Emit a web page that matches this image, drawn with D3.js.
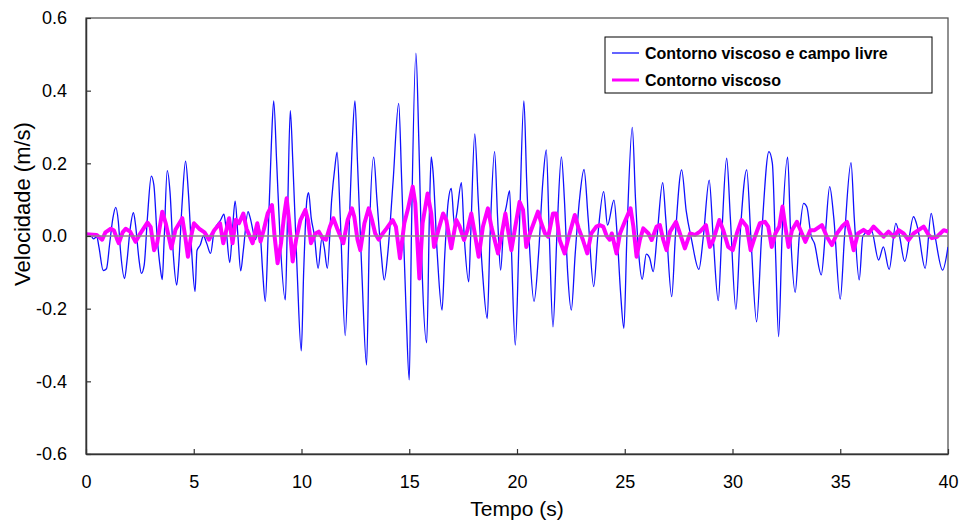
<!DOCTYPE html>
<html>
<head>
<meta charset="utf-8">
<script src="https://cdn.jsdelivr.net/npm/d3@7"></script>
<style>
  body { margin: 0; background: #fff; }
  svg { display: block; }
  text { font-family: Arial, "Liberation Sans", sans-serif; fill: #000; }
</style>
</head>
<body>
<svg id="chart" width="961" height="523"></svg>
<script>
// Series names shown in the legend
const seriesNames = ["Contorno viscoso e campo livre", "Contorno viscoso"];

// Velocity (m/s) vs time (s) — viscous boundary + free field
const timeFree = [0,0.2,0.35,0.5,0.6,0.8,0.95,1.1,1.25,1.38,1.5,1.6,1.79,1.9,2.05,2.2,2.3,2.45,2.57,2.7,2.85,3.03,3.15,3.3,3.45,3.54,3.62,3.77,3.9,4.05,4.21,4.3,4.45,4.62,4.75,4.9,5.06,5.15,5.3,5.45,5.6,5.78,5.95,6.25,6.4,6.5,6.67,6.8,6.92,7.05,7.18,7.3,7.52,7.62,7.87,8.0,8.1,8.2,8.32,8.45,8.6,8.71,8.85,9.0,9.25,9.35,9.48,9.6,9.8,9.99,10.1,10.25,10.33,10.45,10.6,10.77,10.95,11.05,11.2,11.4,11.55,11.65,11.8,12.03,12.2,12.35,12.48,12.6,12.8,13.02,13.15,13.35,13.5,13.7,13.84,14.0,14.25,14.51,14.65,14.85,15.0,15.1,15.31,15.45,15.6,15.81,15.95,16.02,16.1,16.3,16.52,16.65,16.8,16.95,17.1,17.2,17.42,17.55,17.76,17.85,18.04,18.2,18.4,18.62,18.75,18.96,19.1,19.24,19.4,19.5,19.66,19.75,19.92,20.1,20.32,20.45,20.6,20.79,21.0,21.2,21.36,21.5,21.67,21.85,22.06,22.2,22.35,22.52,22.7,22.9,23.11,23.3,23.56,23.75,24.02,24.2,24.5,24.65,24.8,24.96,25.1,25.35,25.5,25.65,25.81,26.0,26.15,26.32,26.5,26.76,26.9,27.18,27.35,27.64,27.85,28.1,28.44,28.65,28.92,29.1,29.34,29.5,29.73,29.9,30.16,30.35,30.66,30.85,31.12,31.35,31.69,31.85,32.0,32.14,32.3,32.56,32.7,32.91,33.1,33.3,33.45,33.65,33.8,34.12,34.3,34.51,34.7,35.0,35.2,35.5,35.65,35.88,36.05,36.44,36.78,37.0,37.27,37.58,37.75,37.99,38.4,38.6,38.94,39.22,39.4,39.75,40.0];
const velFree = [0,0.003,-0.008,-0.002,-0.03,-0.095,-0.09,-0.02,0.05,0.079,0.04,-0.04,-0.117,-0.07,0.02,0.064,0.03,-0.06,-0.103,-0.08,0.05,0.165,0.14,0.0,-0.09,-0.12,-0.02,0.18,0.12,-0.05,-0.135,-0.08,0.08,0.206,0.12,-0.04,-0.153,-0.04,-0.025,0.0,-0.02,-0.048,0.015,0.044,0.06,0.02,-0.073,0.02,0.096,0.0,-0.096,-0.04,0.067,0.05,-0.01,0.03,-0.005,-0.1,-0.18,0.0,0.25,0.372,0.2,0.0,-0.176,0.05,0.345,0.2,-0.1,-0.316,-0.1,0.1,0.119,0.05,0.0,-0.089,-0.005,-0.03,-0.089,0.1,0.19,0.231,0.05,-0.274,0.0,0.25,0.372,0.2,-0.1,-0.355,0.0,0.217,0.1,-0.05,-0.121,-0.05,0.15,0.365,0.15,-0.2,-0.396,0.0,0.503,0.25,-0.1,-0.294,0.1,0.218,0.18,-0.05,-0.204,-0.05,0.09,0.131,0.03,0.06,0.147,0.0,-0.126,0.0,0.281,0.1,-0.1,-0.227,0.0,0.232,0.05,-0.094,0.05,0.08,0.125,-0.05,-0.3,0.0,0.372,0.15,-0.05,-0.18,-0.05,0.15,0.237,0.0,-0.25,0.0,0.218,0.1,-0.1,-0.204,-0.05,0.1,0.183,0.05,-0.139,0.0,0.122,0.03,0.099,0.0,-0.15,-0.254,0.0,0.299,0.1,-0.05,-0.119,-0.05,-0.06,-0.098,0.0,0.147,0.05,-0.167,0.0,0.182,0.07,-0.01,-0.092,0.0,0.154,0.0,-0.178,0.0,0.214,0.05,-0.202,0.0,0.182,0.0,-0.236,0.0,0.232,0.2,-0.05,-0.277,0.0,0.217,0.0,-0.155,0.0,0.09,0.08,0.0,-0.02,-0.107,0.0,0.136,0.05,-0.174,0.0,0.202,0.05,-0.121,0.0,0.017,-0.066,-0.03,-0.092,0.035,0.0,-0.07,0.053,0.02,-0.089,0.062,0.0,-0.094,-0.03];

// Velocity (m/s) vs time (s) — viscous boundary only
const timeVisc = [0,0.5,0.75,0.9,1.15,1.3,1.45,1.52,1.7,1.84,2.05,2.3,2.5,2.85,3.0,3.16,3.3,3.54,3.7,3.96,4.15,4.47,4.6,4.73,4.88,5.01,5.25,5.5,5.71,5.95,6.22,6.37,6.64,6.8,6.95,7.1,7.3,7.45,7.73,7.95,8.1,8.25,8.43,8.63,8.75,8.89,9.05,9.2,9.31,9.42,9.59,9.75,9.95,10.18,10.3,10.44,10.65,10.8,10.98,11.14,11.32,11.48,11.68,11.94,12.14,12.34,12.45,12.6,12.73,12.92,13.12,13.27,13.42,13.58,13.77,13.95,14.23,14.38,14.57,14.77,14.93,15.16,15.28,15.47,15.62,15.85,16.02,16.15,16.35,16.57,16.72,16.95,17.18,17.34,17.54,17.7,17.88,18.04,18.22,18.42,18.65,18.81,19.12,19.3,19.46,19.61,19.74,19.92,20.12,20.28,20.43,20.6,20.97,21.13,21.3,21.45,21.67,21.82,21.98,22.21,22.44,22.68,22.86,23.06,23.26,23.45,23.68,23.84,24.0,24.16,24.3,24.4,24.62,24.78,25.0,25.27,25.4,25.55,25.7,25.86,26.1,26.25,26.48,26.63,26.79,26.94,27.1,27.38,27.56,27.79,28.03,28.26,28.49,28.77,28.95,29.11,29.39,29.57,29.8,30.01,30.2,30.42,30.66,30.84,31.04,31.27,31.51,31.66,31.82,31.99,32.17,32.32,32.45,32.6,32.76,32.99,33.22,33.38,33.61,33.81,34.15,34.38,34.61,34.85,35.08,35.31,35.46,35.62,35.82,36.08,36.31,36.55,36.78,37.01,37.24,37.48,37.71,37.94,38.17,38.4,38.63,38.87,39.1,39.25,39.49,39.8,40.0];
const velVisc = [0.005,0.003,-0.01,0.01,0.02,0.015,-0.01,-0.02,0.01,0.02,0.012,-0.016,0.005,0.037,0.025,-0.039,-0.02,0.067,0.035,-0.034,0.017,0.049,0.0,-0.057,0.0,0.035,0.02,0.01,-0.01,0.016,0.035,-0.02,0.049,-0.02,0.045,0.035,0.062,0.02,-0.02,0.035,-0.015,0.017,0.062,0.085,0.0,-0.075,-0.02,0.06,0.104,0.044,-0.07,-0.01,0.044,0.072,0.044,-0.02,0.007,0.012,-0.006,-0.01,0.026,0.049,0.017,-0.02,0.044,0.076,0.053,-0.01,-0.039,0.035,0.076,0.044,0.007,-0.01,0.007,0.021,0.044,0.026,-0.061,0.035,0.072,0.136,0.09,-0.117,0.035,0.117,0.062,-0.03,0.016,0.062,0.044,-0.034,0.044,0.026,-0.011,0.016,0.062,0.007,-0.057,0.026,0.076,0.026,-0.048,0.007,0.062,0.007,-0.039,0.026,0.094,0.072,-0.03,0.007,0.067,0.035,0.007,-0.002,0.062,0.062,-0.011,-0.048,0.007,0.058,0.021,-0.011,-0.048,0.007,0.026,0.03,0.026,0.0,-0.01,0.007,-0.048,0.007,0.039,0.076,0.026,-0.057,-0.011,0.021,0.007,-0.011,0.026,0.03,-0.011,-0.039,0.012,0.039,0.007,-0.034,0.007,0.003,0.012,0.03,-0.03,-0.011,0.044,0.016,-0.03,-0.039,0.007,0.044,0.026,-0.039,-0.002,0.035,0.039,0.026,-0.03,0.007,0.026,0.081,0.026,-0.03,0.016,0.039,0.007,-0.016,0.016,0.016,0.03,-0.002,-0.025,0.007,0.026,0.039,0.007,-0.039,0.007,0.017,0.007,0.026,0.012,-0.002,0.012,-0.002,0.016,0.007,-0.011,0.007,0.016,0.026,0.003,-0.006,-0.002,0.016,0.012];

// Axis ticks
const xTickValues = [0, 5, 10, 15, 20, 25, 30, 35, 40];
const yTickValues = [-0.6, -0.4, -0.2, 0.0, 0.2, 0.4, 0.6];
const yTickLabels = ["-0.6", "-0.4", "-0.2", "0.0", "0.2", "0.4", "0.6"];
const seriesColors = ["#1010ff", "#ff00ff"];

const svg = d3.select("#chart");
const plot = { left: 86, right: 948, top: 18, bottom: 454 };

const x = d3.scaleLinear().domain([0, 40]).range([plot.left, plot.right]);
const y = d3.scaleLinear().domain([-0.6, 0.6]).range([plot.bottom, plot.top]);

svg.append("defs").append("clipPath").attr("id", "plotClip")
  .append("rect")
  .attr("x", plot.left).attr("y", plot.top)
  .attr("width", plot.right - plot.left).attr("height", plot.bottom - plot.top);

// Plot frame
svg.append("rect")
  .attr("x", plot.left).attr("y", plot.top)
  .attr("width", plot.right - plot.left).attr("height", plot.bottom - plot.top)
  .attr("fill", "#fff").attr("stroke", "#555").attr("stroke-width", 1.3);

const freeData = d3.zip(timeFree, velFree);
const viscData = d3.zip(timeVisc, velVisc);

// Smooth oscillation for the free-field record, jagged band for the viscous one
const lineSmooth = d3.line().x(d => x(d[0])).y(d => y(d[1])).curve(d3.curveMonotoneX);
const lineRaw = d3.line().x(d => x(d[0])).y(d => y(d[1]));

const series = svg.append("g").attr("clip-path", "url(#plotClip)");
series.append("path").datum(freeData)
  .attr("d", lineSmooth).attr("fill", "none")
  .attr("stroke", seriesColors[0]).attr("stroke-width", 1.3);
series.append("path").datum(viscData)
  .attr("d", lineRaw).attr("fill", "none")
  .attr("stroke", seriesColors[1]).attr("stroke-width", 4)
  .attr("stroke-linejoin", "round");

// Zero reference line
svg.append("line")
  .attr("x1", plot.left).attr("x2", plot.right)
  .attr("y1", y(0)).attr("y2", y(0))
  .attr("stroke", "#8a8a8a").attr("stroke-width", 1.5);

// Axes with inward ticks
const yAxis = d3.axisLeft(y)
  .tickValues(yTickValues)
  .tickFormat((d, i) => yTickLabels[i])
  .tickSizeInner(-5).tickSizeOuter(0).tickPadding(19);
const gy = svg.append("g").attr("transform", `translate(${plot.left},0)`).call(yAxis);

const xAxis = d3.axisBottom(x)
  .tickValues(xTickValues)
  .tickFormat(d3.format("d"))
  .tickSizeInner(-5).tickSizeOuter(0).tickPadding(21);
const gx = svg.append("g").attr("transform", `translate(0,${plot.bottom})`).call(xAxis);

[gx, gy].forEach(g => {
  g.select(".domain").attr("stroke", "#333").attr("stroke-width", 1.5);
  g.selectAll(".tick line").attr("stroke", "#333").attr("stroke-width", 1.2);
  g.selectAll(".tick text")
    .attr("font-family", "Arial, 'Liberation Sans', sans-serif")
    .attr("font-size", 18).attr("fill", "#000");
});

// Axis titles
svg.append("text")
  .attr("x", (plot.left + plot.right) / 2).attr("y", 516)
  .attr("text-anchor", "middle").attr("font-size", 21)
  .text("Tempo (s)");

svg.append("text")
  .attr("transform", "translate(30,204) rotate(-90)")
  .attr("text-anchor", "middle").attr("font-size", 22)
  .text("Velocidade (m/s)");

// Legend
const legend = svg.append("g");
legend.append("rect")
  .attr("x", 605).attr("y", 37).attr("width", 327).attr("height", 56)
  .attr("fill", "#fff").attr("stroke", "#000").attr("stroke-width", 1);
const legendRows = [53, 80];
seriesNames.forEach((name, i) => {
  legend.append("line")
    .attr("x1", 612).attr("x2", 639)
    .attr("y1", legendRows[i]).attr("y2", legendRows[i])
    .attr("stroke", seriesColors[i]).attr("stroke-width", i === 0 ? 1.3 : 3);
  legend.append("text")
    .attr("x", 645).attr("y", legendRows[i] + 6)
    .attr("font-size", 16).attr("font-weight", "bold")
    .text(name);
});
</script>
</body>
</html>
